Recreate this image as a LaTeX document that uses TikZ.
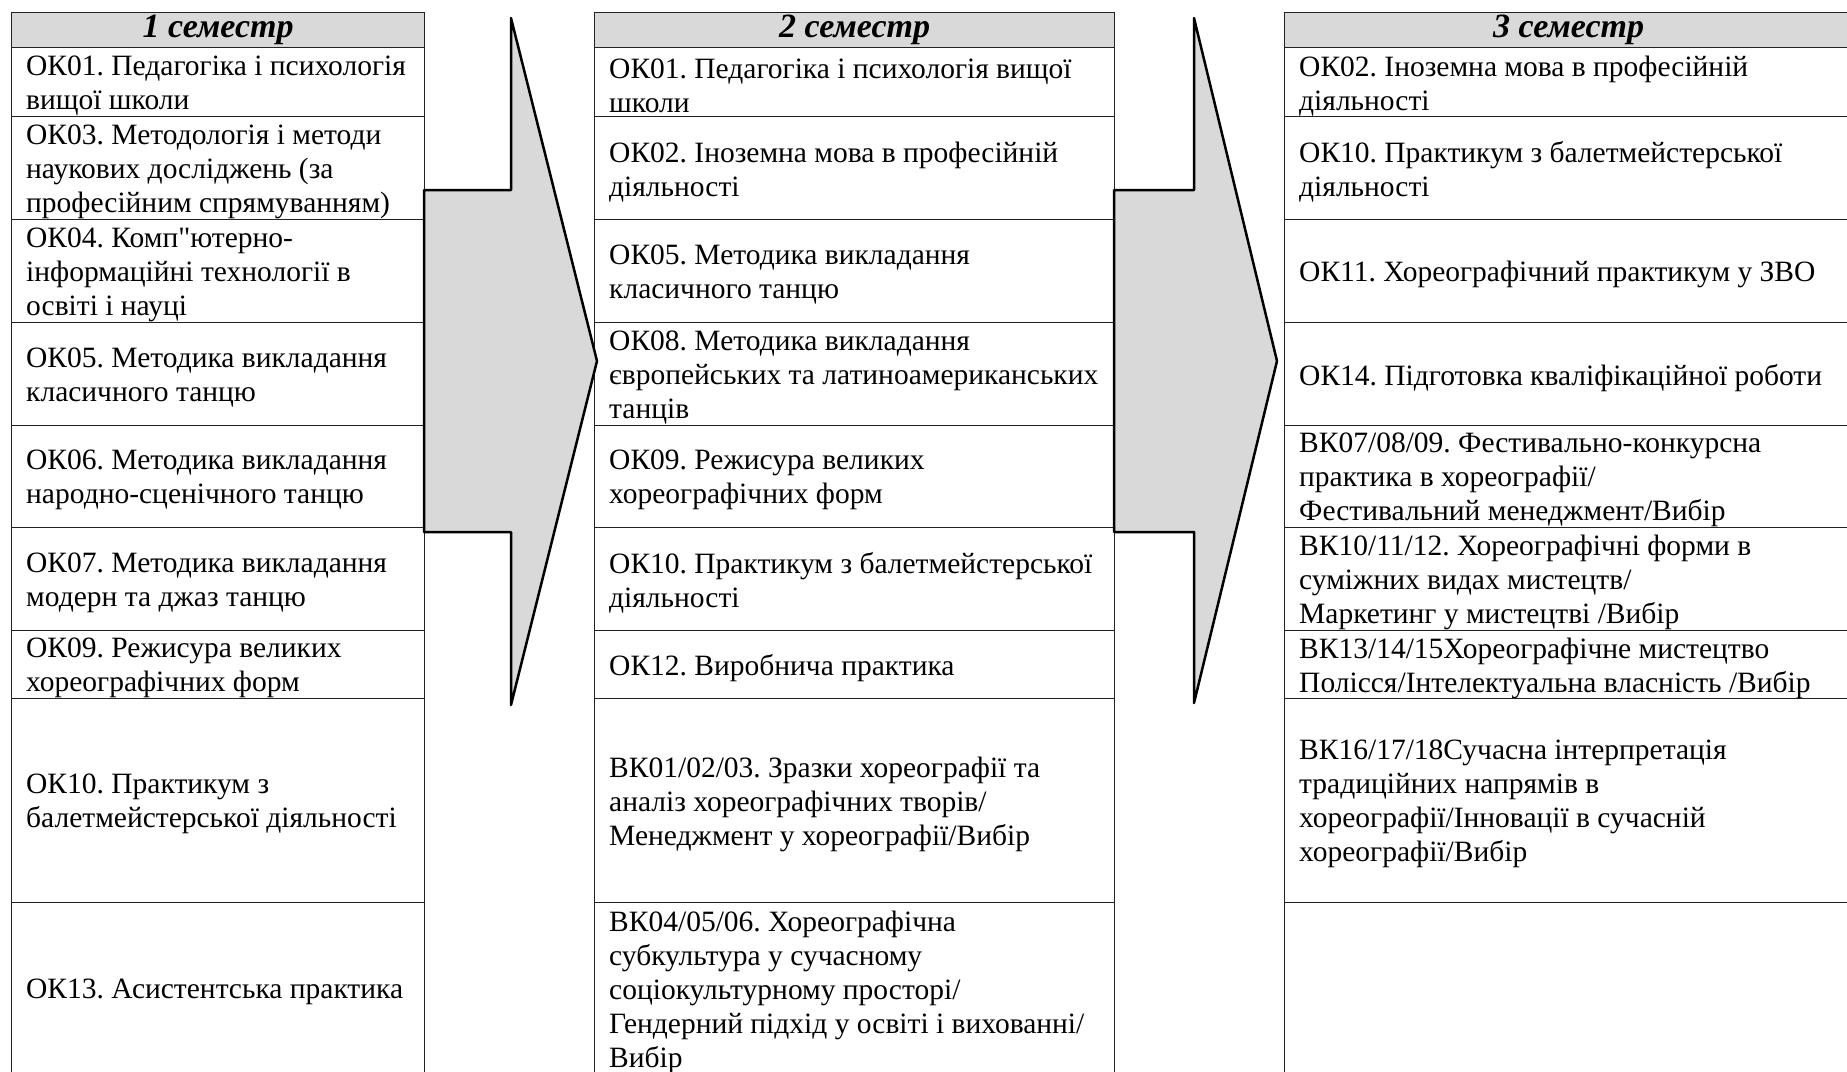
\documentclass[tikz,border=0pt]{standalone}
\usepackage{fontspec}
\setmainfont{Liberation Serif}[Ligatures=TeXOff]
\definecolor{hdrgray}{HTML}{D9D9D9}
\definecolor{arrgray}{HTML}{D9D9D9}
\definecolor{gridline}{HTML}{222222}
\newcommand{\semcell}[6]{%
  \node[cellbox, minimum width=#4pt, minimum height=#5pt] (#1) at (#2,#3) {};
  \node[celltext] (#1t) at ([xshift=15pt,yshift=-3.5pt]#1.west) {#6};}
\newcommand{\semempty}[5]{%
  \node[cellbox, minimum width=#4pt, minimum height=#5pt] (#1) at (#2,#3) {};}
\newcommand{\semhead}[6]{%
  \node[hdrbox, minimum width=#4pt, minimum height=#5pt] (#1) at (#2,#3) {#6};}
\begin{document}
\begin{tikzpicture}[x=1pt,y=-1pt,
  cellbox/.style={draw=gridline, line width=1.3pt, anchor=north west, inner sep=0pt},
  hdrbox/.style={cellbox, fill=hdrgray, align=center, font=\fontsize{34}{39}\selectfont\bfseries\itshape},
  celltext/.style={anchor=west, align=left, inner sep=0pt, font=\fontsize{29.5}{34}\selectfont\frenchspacing},
  blockarrow/.style={draw=black, line width=2.5pt, fill=arrgray, line join=round}
]
\useasboundingbox (0,0) rectangle (1847,1071);
\clip (0,0) rectangle (1847,1071);

% ---------- column 1 ----------
\semhead{a0}{11}{12}{413}{35}{1 семестр}
\semcell{a1}{11}{47}{413}{69}{ОК01. Педагогіка і психологія\\вищої школи}
\semcell{a2}{11}{116}{413}{103}{ОК03. Методологія і методи\\наукових досліджень (за\\професійним спрямуванням)}
\semcell{a3}{11}{219}{413}{103}{ОК04. Комп"ютерно-\\інформаційні технології в\\освіті і науці}
\semcell{a4}{11}{322}{413}{103}{ОК05. Методика викладання\\класичного танцю}
\semcell{a5}{11}{425}{413}{102}{ОК06. Методика викладання\\народно-сценічного танцю}
\semcell{a6}{11}{527}{413}{103}{ОК07. Методика викладання\\модерн та джаз танцю}
\semcell{a7}{11}{630}{413}{68}{ОК09. Режисура великих\\хореографічних форм}
\semcell{a8}{11}{698}{413}{204}{ОК10. Практикум з\\балетмейстерської діяльності}
\semcell{a9}{11}{902}{413}{172}{ОК13. Асистентська практика}

% ---------- column 2 ----------
\semhead{b0}{594}{12}{520}{35}{2 семестр}
\semcell{b1}{594}{47}{520}{69}{ОК01. Педагогіка і психологія вищої\\школи}
\semcell{b2}{594}{116}{520}{103}{ОК02. Іноземна мова в професійній\\діяльності}
\semcell{b3}{594}{219}{520}{103}{ОК05. Методика викладання\\класичного танцю}
\semcell{b4}{594}{322}{520}{103}{ОК08. Методика викладання\\європейських та латиноамериканських\\танців}
\semcell{b5}{594}{425}{520}{102}{ОК09. Режисура великих\\хореографічних форм}
\semcell{b6}{594}{527}{520}{103}{ОК10. Практикум з балетмейстерської\\діяльності}
\semcell{b7}{594}{630}{520}{68}{ОК12. Виробнича практика}
\semcell{b8}{594}{698}{520}{204}{ВК01/02/03. Зразки хореографії та\\аналіз хореографічних творів/\\Менеджмент у хореографії/Вибір}
\semcell{b9}{594}{902}{520}{172}{ВК04/05/06. Хореографічна\\субкультура у сучасному\\соціокультурному просторі/\\Гендерний підхід у освіті і вихованні/\\Вибір}

% ---------- column 3 ----------
\semhead{c0}{1284}{12}{568}{35}{3 семестр}
\semcell{c1}{1284}{47}{568}{69}{ОК02. Іноземна мова в професійній\\діяльності}
\semcell{c2}{1284}{116}{568}{103}{ОК10. Практикум з балетмейстерської\\діяльності}
\semcell{c3}{1284}{219}{568}{103}{ОК11. Хореографічний практикум у ЗВО}
\semcell{c4}{1284}{322}{568}{103}{ОК14. Підготовка кваліфікаційної роботи}
\semcell{c5}{1284}{425}{568}{102}{ВК07/08/09. Фестивально-конкурсна\\практика в хореографії/\\Фестивальний менеджмент/Вибір}
\semcell{c6}{1284}{527}{568}{103}{ВК10/11/12. Хореографічні форми в\\суміжних видах мистецтв/\\Маркетинг у мистецтві /Вибір}
\semcell{c7}{1284}{630}{568}{68}{ВК13/14/15Хореографічне мистецтво\\Полісся/Інтелектуальна власність /Вибір}
\semcell{c8}{1284}{698}{568}{204}{ВК16/17/18Сучасна інтерпретація\\традиційних напрямів в\\хореографії/Інновації в сучасній\\хореографії/Вибір}
\semempty{c9}{1284}{902}{568}{172}

% ---------- block arrows ----------
\draw[blockarrow] (424,190) -- (511,190) -- (511,18) -- (597,361) -- (511,705) -- (511,532) -- (424,532) -- cycle;
\draw[blockarrow] (1114,190) -- (1194,190) -- (1194,18) -- (1277,361) -- (1194,703) -- (1194,532) -- (1114,532) -- cycle;
\end{tikzpicture}
\end{document}
